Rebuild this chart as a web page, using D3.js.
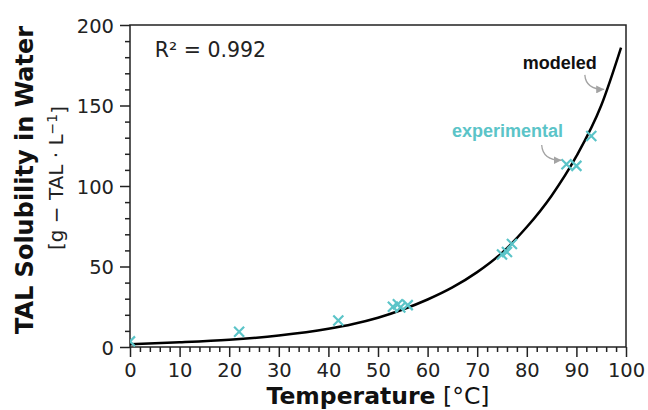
<!DOCTYPE html>
<html>
<head>
<meta charset="utf-8">
<script src="https://cdn.jsdelivr.net/npm/d3@7"></script>
<style>
  body { margin: 0; background: #fff; }
  svg { display: block; }
  .tick text { font-family: "DejaVu Sans", sans-serif; fill: #222; }
</style>
</head>
<body>
<div id="chart"></div>
<script>
// Experimental points (temperature in degC, solubility in g/L)
var expTemp = [0, 22, 42, 53, 54, 54.5, 56, 75, 76, 77, 88, 90, 93]
var expSol = [3.5, 9.5, 16.5, 25, 26.5, 24.5, 26, 57.5, 59, 64, 113.5, 112.5, 131]

// Modeled curve
var modTemp = [0, 10, 20, 30, 40, 45, 50, 55, 60, 65, 70, 75, 80, 85, 90, 95, 99]
var modSol = [1.7, 2.9, 4.5, 7.1, 11.3, 14.3, 18.2, 23.3, 29.5, 37, 46.5, 58.5, 74.5, 94, 118.5, 150, 186]

var xTicks = [0, 10, 20, 30, 40, 50, 60, 70, 80, 90, 100]
var yTicks = [0, 50, 100, 150, 200]

var svgWidth = 648
var svgHeight = 410
var margin = { top: 25, right: 22, bottom: 63, left: 130 }
var width = svgWidth - margin.left - margin.right
var height = svgHeight - margin.top - margin.bottom

var cyan = '#5bc4c8'
var grey = '#a3a3a3'

var svg = d3.select('#chart')
      .append('svg')
      .attr('width', svgWidth)
      .attr('height', svgHeight)

var chartGroup = svg.append('g')
      .attr('transform', `translate(${margin.left}, ${margin.top})`)

var x = d3.scaleLinear().domain([0, 100]).range([0, width])
var y = d3.scaleLinear().domain([0, 200]).range([height, 0])

svg.append('defs').append('clipPath')
      .attr('id', 'plotclip')
      .append('rect')
      .attr('width', width)
      .attr('height', height)

svg.select('defs').append('marker')
      .attr('id', 'head')
      .attr('viewBox', '0 0 10 10')
      .attr('refX', 10)
      .attr('refY', 5)
      .attr('markerWidth', 8)
      .attr('markerHeight', 8)
      .attr('markerUnits', 'userSpaceOnUse')
      .attr('orient', 'auto')
      .append('path')
      .attr('d', 'M0,0 L10,5 L0,10 z')
      .attr('fill', grey)

// minor ticks
var minorX = d3.range(0, 101, 2).filter(v => v % 10 !== 0)
var minorY = d3.range(0, 201, 10).filter(v => v % 50 !== 0)

chartGroup.append('g')
      .attr('transform', `translate(0, ${height})`)
      .call(d3.axisBottom(x).tickValues(minorX).tickSize(5).tickSizeOuter(0).tickFormat(''))
      .call(g => g.select('.domain').remove())

chartGroup.append('g')
      .call(d3.axisLeft(y).tickValues(minorY).tickSize(5).tickSizeOuter(0).tickFormat(''))
      .call(g => g.select('.domain').remove())

// major ticks
var xAxis = chartGroup.append('g')
      .attr('transform', `translate(0, ${height})`)
      .call(d3.axisBottom(x).tickValues(xTicks).tickSize(10).tickSizeOuter(0).tickPadding(6))
xAxis.select('.domain').remove()
xAxis.selectAll('text').style('font-size', '19.5px')

var yAxis = chartGroup.append('g')
      .call(d3.axisLeft(y).tickValues(yTicks).tickSize(10).tickSizeOuter(0).tickPadding(6))
yAxis.select('.domain').remove()
yAxis.selectAll('text').style('font-size', '19.5px').attr('dy', '0.36em')

chartGroup.selectAll('.tick line')
      .attr('stroke', '#222')
      .attr('stroke-width', 1.5)

// frame
chartGroup.append('rect')
      .attr('width', width)
      .attr('height', height)
      .attr('fill', 'none')
      .attr('stroke', '#222')
      .attr('stroke-width', 1.5)

var plot = chartGroup.append('g').attr('clip-path', 'url(#plotclip)')

// modeled line
var modeled = modTemp.map((t, i) => ({ t: t, s: modSol[i] }))
plot.append('path')
      .datum(modeled)
      .attr('fill', 'none')
      .attr('stroke', '#000')
      .attr('stroke-width', 2.5)
      .attr('d', d3.line().x(d => x(d.t)).y(d => y(d.s)).curve(d3.curveMonotoneX))

// experimental points
var experimental = expTemp.map((t, i) => ({ t: t, s: expSol[i] }))
plot.selectAll('.pt')
      .data(experimental)
      .enter()
      .append('path')
      .attr('class', 'pt')
      .attr('transform', d => `translate(${x(d.t)}, ${y(d.s)})`)
      .attr('d', d3.symbol().type(d3.symbolX).size(67))
      .attr('fill', 'none')
      .attr('stroke', cyan)
      .attr('stroke-width', 2.2)

// R squared
chartGroup.append('text')
      .attr('x', x(5))
      .attr('y', y(180))
      .style('font-family', 'DejaVu Sans, sans-serif')
      .style('font-size', '20.5px')
      .style('fill', '#222')
      .text('R² = 0.992')

// annotations
chartGroup.append('text')
      .attr('x', x(79.2))
      .attr('y', y(172.5))
      .style('font-family', 'Liberation Sans, Arial, sans-serif')
      .style('font-weight', 'bold')
      .style('font-size', '18px')
      .style('fill', '#111')
      .text('modeled')

chartGroup.append('text')
      .attr('x', x(64.9))
      .attr('y', y(130.4))
      .style('font-family', 'Liberation Sans, Arial, sans-serif')
      .style('font-weight', 'bold')
      .style('font-size', '18px')
      .style('fill', cyan)
      .text('experimental')

function arrow(t0, s0, t1, s1) {
      var x0 = x(t0), y0 = y(s0), x1 = x(t1), y1 = y(s1)
      chartGroup.append('path')
            .attr('d', `M${x0},${y0} Q${x0 + 1},${y1} ${x1},${y1}`)
            .attr('fill', 'none')
            .attr('stroke', grey)
            .attr('stroke-width', 1.3)
            .attr('marker-end', 'url(#head)')
}
arrow(91.7, 169, 95.6, 160)
arrow(83, 125.5, 87, 116)

// axis titles
svg.append('text')
      .attr('transform', `translate(33, ${margin.top + height / 2 - 6}) rotate(-90)`)
      .attr('text-anchor', 'middle')
      .style('font-family', 'DejaVu Sans, sans-serif')
      .style('font-weight', 'bold')
      .style('font-size', '24px')
      .style('fill', '#111')
      .text('TAL Solubility in Water')

var yUnit = svg.append('text')
      .attr('transform', `translate(63, ${margin.top + height / 2 - 8}) rotate(-90)`)
      .attr('text-anchor', 'middle')
      .style('font-family', 'DejaVu Sans, sans-serif')
      .style('font-size', '20px')
      .style('fill', '#222')
yUnit.append('tspan').text('[g − TAL · L')
yUnit.append('tspan').attr('dy', '-0.45em').style('font-size', '14px').text('−1')
yUnit.append('tspan').attr('dy', '0.45em').text(']')

var xTitle = svg.append('text')
      .attr('x', margin.left + width / 2)
      .attr('y', 403.5)
      .attr('text-anchor', 'middle')
      .style('font-family', 'DejaVu Sans, sans-serif')
      .style('font-size', '23.5px')
      .style('fill', '#111')
xTitle.append('tspan').style('font-weight', 'bold').text('Temperature')
xTitle.append('tspan').text(' [°C]')
</script>
</body>
</html>
